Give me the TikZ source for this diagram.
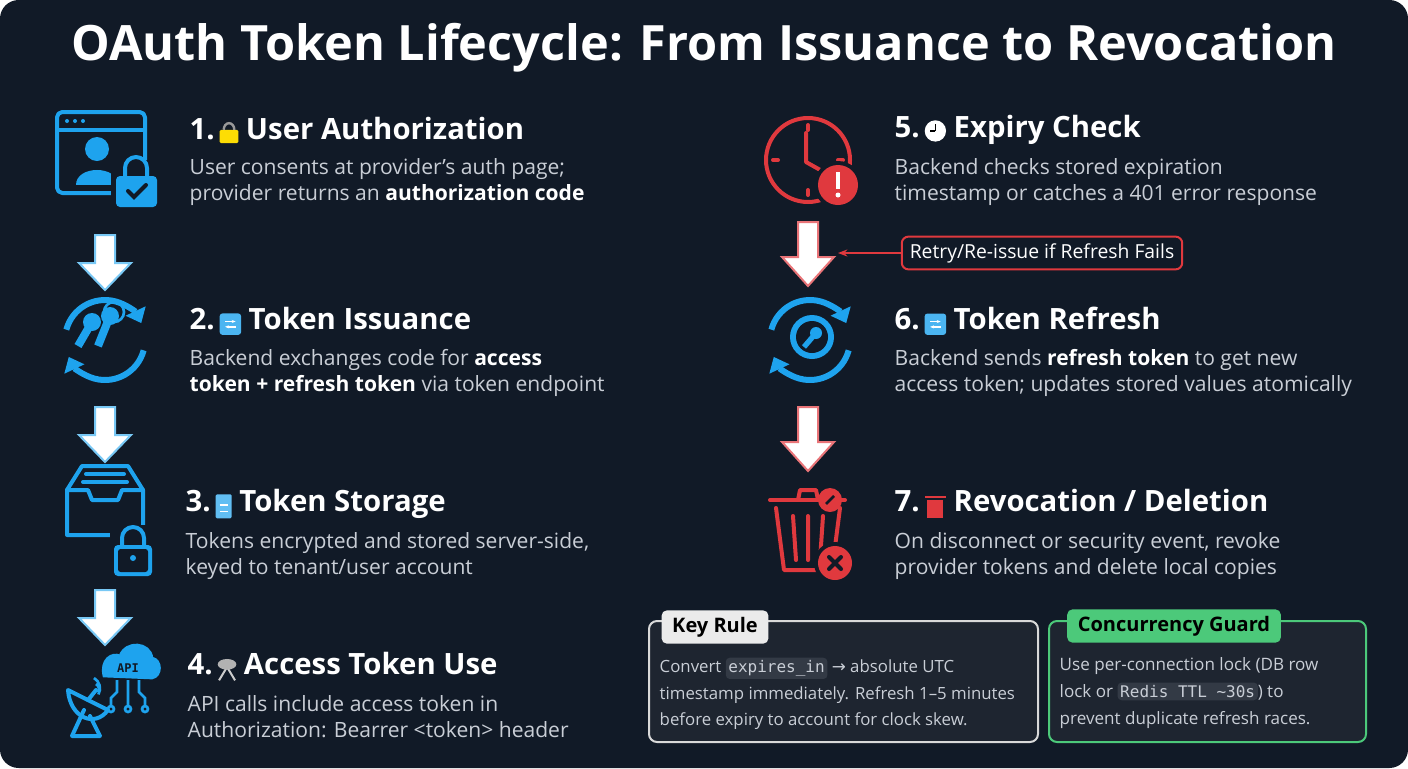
\documentclass[tikz,border=0pt]{standalone}
\usepackage{fontspec}
\setmainfont{Open Sans}
\setmonofont{DejaVu Sans Mono}
\usetikzlibrary{arrows.meta,shapes.geometric}
\definecolor{bg}{HTML}{111A27}
\definecolor{blu}{HTML}{1EA3EE}
\definecolor{rd}{HTML}{E0393E}
\definecolor{txt}{HTML}{C9CED6}
\definecolor{grn}{HTML}{4CC97A}
\definecolor{boxbg}{HTML}{1E2530}
\definecolor{codebg}{HTML}{333A45}
\begin{document}
\begin{tikzpicture}[x=0.75pt,y=-0.75pt,
  head/.style={anchor=west,text=white,font=\fontsize{22}{24}\selectfont\bfseries},
  body/.style={anchor=north west,text=txt,font=\fontsize{15.8}{19}\selectfont,align=left},
  dnarrow/.style={fill=white,draw=blu!60,line width=1.5pt},
  rarrow/.style={fill=white,draw=rd!70,line width=1.5pt},
  ico/.style={draw=blu,line width=3pt,line cap=round,line join=round},
  icor/.style={draw=rd,line width=3pt,line cap=round,line join=round},
  cyc/.style={draw=blu,line width=4.5pt,-{Triangle[length=10pt,width=16pt]}},
  code/.style={fill=codebg,rounded corners=3pt,inner sep=2pt,font=\ttfamily\fontsize{12}{14}\selectfont,text=txt}]
\useasboundingbox (0,0) rectangle (1408,768);
\fill[white] (0,0) rectangle (1408,768);
\fill[bg,rounded corners=14pt] (0,0) rectangle (1408,768);
\node[text=white,font=\fontsize{36.5}{40}\selectfont\bfseries] (title) at (704,48) {OAuth Token Lifecycle: From Issuance to Revocation};

% left column headings
\node[head] (h1) at (185,130) {1.\,\tikz[baseline=-2pt]{\fill[yellow!80!orange,rounded corners=1pt](-7pt,-5pt) rectangle (7pt,5pt);\draw[gray!80,line width=1.8pt](-4pt,5pt) arc (180:0:4pt and 5pt);}\ User Authorization};
\node[body] (b1) at (185,154) {User consents at provider’s auth page;\\provider returns an \textbf{\color{white}authorization code}};
\node[head] (h2) at (185,321) {2.\,\tikz[baseline=-2pt]{\fill[blu!80,rounded corners=2pt](-8pt,-6pt) rectangle (8pt,10pt);\draw[white,line width=1.2pt,-{Stealth[length=3pt]}](-4pt,4pt) -- (4pt,4pt);\draw[white,line width=1.2pt,-{Stealth[length=3pt]}](4pt,0pt) -- (-4pt,0pt);}\ Token Issuance};
\node[body] (b2) at (185,345) {Backend exchanges code for \textbf{\color{white}access}\\\textbf{\color{white}token + refresh token} via token endpoint};
\node[head] (h3) at (181,504) {3.\,\tikz[baseline=-2pt]{\fill[blu!70,rounded corners=1pt](-6pt,-7pt) rectangle (6pt,11pt);\draw[white,line width=1pt](-3pt,-2pt)--(3pt,-2pt) (-3pt,3pt)--(3pt,3pt);}\ Token Storage};
\node[body] (b3) at (181,528) {Tokens encrypted and stored server-side,\\keyed to tenant/user account};
\node[head] (h4) at (183,667) {4.\,\tikz[baseline=-2pt]{\draw[gray!40,line width=1.5pt](-6pt,-6pt)--(0pt,4pt)--(6pt,-6pt);\fill[gray!60](0pt,6pt) ellipse (7pt and 4pt);}\ Access Token Use};
\node[body] (b4) at (183,691) {API calls include access token in\\Authorization: Bearrer <token> header};

% right column
\node[head] (h5) at (890,130) {5.\,\tikz[baseline=-2pt]{\fill[white](0,3pt) circle (8pt);\draw[black,line width=1pt](0,3pt)--(0,8pt) (0,3pt)--(-4pt,3pt);}\ Expiry Check};
\node[body] (b5) at (890,154) {Backend checks stored expiration\\timestamp or catches a 401 error response};
\node[head] (h6) at (890,321) {6.\,\tikz[baseline=-2pt]{\fill[blu!80,rounded corners=2pt](-8pt,-6pt) rectangle (8pt,10pt);\draw[white,line width=1.2pt,-{Stealth[length=3pt]}](-4pt,4pt) -- (4pt,4pt);\draw[white,line width=1.2pt,-{Stealth[length=3pt]}](4pt,0pt) -- (-4pt,0pt);}\ Token Refresh};
\node[body] (b6) at (890,345) {Backend sends \textbf{\color{white}refresh token} to get new\\access token; updates stored values atomically};
\node[head] (h7) at (890,504) {7.\,\tikz[baseline=-2pt]{\fill[rd](-6pt,-7pt) rectangle (6pt,7pt);\fill[rd](-8pt,8pt) rectangle (8pt,10pt);}\ Revocation / Deletion};
\node[body] (b7) at (890,528) {On disconnect or security event, revoke\\provider tokens and delete local copies};

% left arrows
\foreach \y in {235,407,590}{
  \draw[dnarrow] (95,\y) -- (115,\y) -- (115,\y+28) -- (131,\y+28) -- (105,\y+55) -- (79,\y+28) -- (95,\y+28) -- cycle;}
% right arrows
\foreach \y in {222,407}{
  \draw[rarrow] (798,\y) -- (818,\y) -- (818,\y+35) -- (834,\y+35) -- (808,\y+64) -- (782,\y+35) -- (798,\y+35) -- cycle;}

% retry label
\node[draw=rd,line width=1.5pt,rounded corners=5pt,fill=bg,text=white,font=\fontsize{14.5}{16}\selectfont,inner xsep=6pt,inner ysep=5pt] (retry) at (1042,253) {Retry/Re-issue if Refresh Fails};
\coordinate (rt) at (838,253);
\draw[rd,line width=1.2pt,-{Stealth[length=7pt]}] (retry.west) -- (rt);

% icon 1
\draw[ico,rounded corners=4pt] (57,112) rectangle (145,193);
\draw[ico] (57,130) -- (145,130);
\fill[blu] (67,121) circle (2) (75,121) circle (2) (83,121) circle (2);
\fill[blu] (97,149) circle (12);
\fill[blu] (76,185) .. controls (76,165) and (118,165) .. (118,185) -- cycle;
\fill[bg] (111,160) rectangle (162,212);
\fill[blu,rounded corners=3pt] (116,176) rectangle (157,207);
\draw[ico] (125,177) -- (125,168) arc (180:360:11) -- (147,177);
\draw[bg,line width=3pt,line cap=round] (128,191) -- (134,197) -- (146,185);
% icon 2
\draw[cyc] ([shift={(-165:40)}]105,340) arc (-165:-25:40);
\draw[cyc] ([shift={(15:40)}]105,340) arc (15:155:40);
\fill[blu] (92,322) circle (9) (110,316) circle (9);
\draw[blu,line width=6pt] (92,322) -- (78,346) (110,316) -- (98,346);
\draw[blu,line width=2pt] (114,312) circle (10);
% icon 3
\draw[ico] (67,490) -- (82,466) -- (128,466) -- (143,490) -- (143,535) -- (67,535) -- cycle;
\draw[ico] (67,490) -- (88,490) -- (92,500) -- (118,500) -- (122,490) -- (143,490);
\draw[ico] (86,474) -- (124,474) (83,482) -- (127,482);
\fill[bg] (110,525) rectangle (156,580);
\fill[blu,rounded corners=3pt] (114,545) rectangle (152,576);
\fill[bg,rounded corners=2pt] (118,549) rectangle (148,572);
\draw[ico] (122,545) -- (122,538) arc (180:360:11) -- (144,545);
\fill[blu] (133,558) circle (3);
% icon 4
\draw[blu,line width=2pt,fill=blu] (104,676) .. controls (100,660) and (112,652) .. (120,656) .. controls (126,640) and (150,642) .. (152,658) .. controls (162,660) and (162,676) .. (152,678) -- cycle;
\node[text=bg,font=\ttfamily\bfseries\fontsize{9}{10}\selectfont] (api) at (128,668) {API};
\draw[blu,line width=2pt] (117,680)--(117,692)--(111,698)--(111,706) (128,680)--(128,706) (139,680)--(139,692)--(145,698)--(145,706);
\draw[blu,line width=2pt] (111,709) circle (3) (128,709) circle (3) (145,709) circle (3);
\draw[ico] (68,690) .. controls (70,718) and (95,728) .. (108,710) -- cycle;
\draw[ico] (84,710) -- (72,736) -- (100,736) -- (90,716);
\draw[ico] (88,700) -- (96,690);
\draw[blu,line width=2pt] (96,684) arc (-60:30:6) (94,678) arc (-60:30:12);
% icon 5 clock
\draw[icor] (808,160) circle (42);
\draw[icor] (808,125) -- (808,130) (808,195) -- (808,190) (773,160) -- (778,160) (843,160)--(838,160);
\draw[icor] (806,133) -- (806,162) -- (822,171);
\fill[bg] (838,185) circle (24);
\fill[rd] (838,185) circle (20);
\fill[white] (836,172) rectangle (840,189);
\fill[white] (838,195) circle (2.5);
% icon 6
\draw[cyc] ([shift={(-165:40)}]810,340) arc (-165:-25:40);
\draw[cyc] ([shift={(15:40)}]810,340) arc (15:155:40);
\fill[blu] (812,337) circle (22);
\fill[bg] (812,337) circle (16);
\fill[blu] (816,333) circle (6);
\draw[blu,line width=4pt] (816,333) -- (804,347);
% icon 7
\draw[icor] (770,500) -- (845,500);
\draw[icor] (798,500) -- (800,490) -- (816,490) -- (818,500);
\draw[icor] (776,508) -- (784,570) -- (832,570) -- (840,508);
\draw[icor] (793,516) -- (796,560) (808,516) -- (808,560) (823,516) -- (820,560);
\fill[rd] (830,500) circle (12);
\draw[bg,line width=2pt] (826,504) -- (834,496);
\fill[bg] (835,563) circle (21);
\fill[rd] (835,563) circle (17);
\draw[bg,line width=3pt,line cap=round] (829,557) -- (841,569) (841,557) -- (829,569);

% key rule box
\draw[white!85!black,line width=1.5pt,rounded corners=6pt,fill=boxbg] (649,621) rectangle (1038,742);
\node[fill=white!92!black,rounded corners=4pt,text=black,font=\fontsize{15}{17}\selectfont\bfseries,inner xsep=8pt,inner ysep=5pt] (kr) at (715,627) {Key Rule};
\node[body,font=\fontsize{12.6}{20}\selectfont] (krt) at (655,653) {Convert \tikz[baseline=(c.base)]\node[code] (c) {expires\_in};\ {\fontspec{DejaVu Sans}→} absolute UTC\\timestamp immediately. Refresh 1–5 minutes\\before expiry to account for clock skew.};
% concurrency box
\draw[grn,line width=1.5pt,rounded corners=6pt,fill=boxbg] (1049,621) rectangle (1366,742);
\node[fill=grn,rounded corners=4pt,text=black,font=\fontsize{15}{17}\selectfont\bfseries,inner xsep=8pt,inner ysep=5pt] (cg) at (1174,626) {Concurrency Guard};
\node[body,font=\fontsize{12.8}{20}\selectfont] (cgt) at (1055,653) {Use per-connection lock (DB row\\lock or \tikz[baseline=(c.base)]\node[code] (c) {Redis TTL \textasciitilde30s};) to\\prevent duplicate refresh races.};
\end{tikzpicture}
\end{document}
